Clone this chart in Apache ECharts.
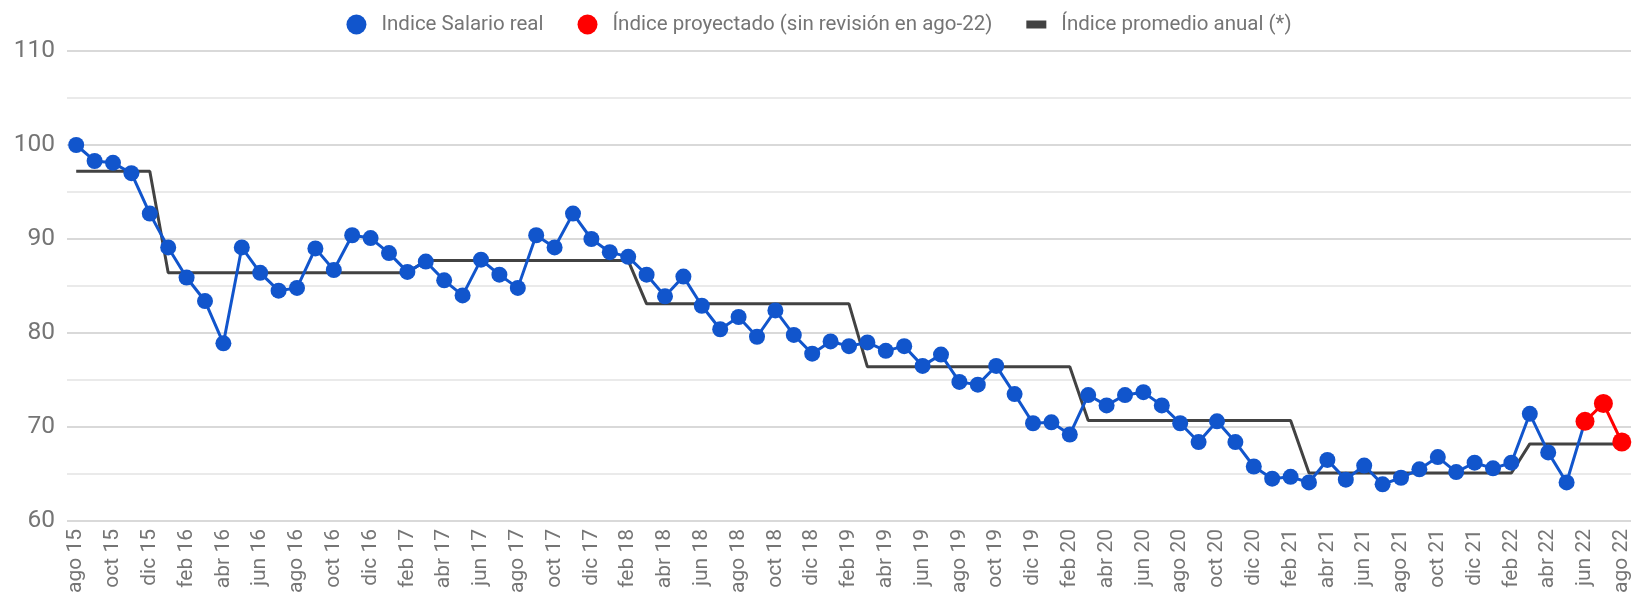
<!DOCTYPE html>
<html>
<head>
<meta charset="utf-8">
<script src="https://cdn.jsdelivr.net/npm/echarts@6/dist/echarts.min.js"></script>
<style>
html,body{margin:0;padding:0;background:#fff;}
#chart{width:1638px;height:596px;}
</style>
</head>
<body>
<div id="chart"></div>
<script>
const categories = [
 'ago 15','sep 15','oct 15','nov 15','dic 15',
 'ene 16','feb 16','mar 16','abr 16','may 16','jun 16','jul 16','ago 16','sep 16','oct 16','nov 16','dic 16',
 'ene 17','feb 17','mar 17','abr 17','may 17','jun 17','jul 17','ago 17','sep 17','oct 17','nov 17','dic 17',
 'ene 18','feb 18','mar 18','abr 18','may 18','jun 18','jul 18','ago 18','sep 18','oct 18','nov 18','dic 18',
 'ene 19','feb 19','mar 19','abr 19','may 19','jun 19','jul 19','ago 19','sep 19','oct 19','nov 19','dic 19',
 'ene 20','feb 20','mar 20','abr 20','may 20','jun 20','jul 20','ago 20','sep 20','oct 20','nov 20','dic 20',
 'ene 21','feb 21','mar 21','abr 21','may 21','jun 21','jul 21','ago 21','sep 21','oct 21','nov 21','dic 21',
 'ene 22','feb 22','mar 22','abr 22','may 22','jun 22','jul 22','ago 22'
];

const salarioReal = [
 100.0, 98.3, 98.1, 97.0, 92.7,
 89.1, 85.9, 83.4, 78.9, 89.1, 86.4, 84.5, 84.8, 89.0, 86.7, 90.4, 90.1,
 88.5, 86.5, 87.6, 85.6, 84.0, 87.8, 86.2, 84.8, 90.4, 89.1, 92.7, 90.0,
 88.6, 88.1, 86.2, 83.9, 86.0, 82.9, 80.4, 81.7, 79.6, 82.4, 79.8, 77.8,
 79.1, 78.6, 79.0, 78.1, 78.6, 76.5, 77.7, 74.8, 74.5, 76.5, 73.5, 70.4,
 70.5, 69.2, 73.4, 72.3, 73.4, 73.7, 72.3, 70.4, 68.4, 70.6, 68.4, 65.8,
 64.5, 64.7, 64.1, 66.5, 64.4, 65.9, 63.9, 64.6, 65.5, 66.8, 65.2, 66.2,
 65.6, 66.2, 71.4, 67.3, 64.1, 70.6, null, null
];

const proyectado = [
 null, null, null, null, null,
 null, null, null, null, null, null, null, null, null, null, null, null,
 null, null, null, null, null, null, null, null, null, null, null, null,
 null, null, null, null, null, null, null, null, null, null, null, null,
 null, null, null, null, null, null, null, null, null, null, null, null,
 null, null, null, null, null, null, null, null, null, null, null, null,
 null, null, null, null, null, null, null, null, null, null, null, null,
 null, null, null, null, null, 70.6, 72.5, 68.4
];

const promedioAnual = [
 97.2, 97.2, 97.2, 97.2, 97.2,
 86.4, 86.4, 86.4, 86.4, 86.4, 86.4, 86.4, 86.4, 86.4, 86.4, 86.4, 86.4,
 86.4, 86.4, 87.7, 87.7, 87.7, 87.7, 87.7, 87.7, 87.7, 87.7, 87.7, 87.7,
 87.7, 87.7, 83.1, 83.1, 83.1, 83.1, 83.1, 83.1, 83.1, 83.1, 83.1, 83.1,
 83.1, 83.1, 76.4, 76.4, 76.4, 76.4, 76.4, 76.4, 76.4, 76.4, 76.4, 76.4,
 76.4, 76.4, 70.7, 70.7, 70.7, 70.7, 70.7, 70.7, 70.7, 70.7, 70.7, 70.7,
 70.7, 70.7, 65.1, 65.1, 65.1, 65.1, 65.1, 65.1, 65.1, 65.1, 65.1, 65.1,
 65.1, 65.1, 68.2, 68.2, 68.2, 68.2, 68.2, 68.2
];

const yTicks = [60, 70, 80, 90, 100, 110];

const NAME_REAL = 'Indice Salario real';
const NAME_PROY = 'Índice proyectado (sin revisión en ago-22)';
const NAME_PROM = 'Índice promedio anual (*)';

const chart = echarts.init(document.getElementById('chart'), null, {renderer: 'canvas'});
chart.setOption({
  animation: false,
  backgroundColor: '#ffffff',
  textStyle: {fontFamily: 'Roboto'},
  legend: {
    top: 9,
    left: 'center',
    itemWidth: 20,
    itemHeight: 20,
    itemGap: 34,
    textStyle: {fontSize: 20.5, color: '#757575', fontFamily: 'Roboto', padding: [0, 0, 0, 10]},
    data: [
      {name: NAME_REAL, icon: 'circle'},
      {name: NAME_PROY, icon: 'circle'},
      {name: NAME_PROM, icon: 'path://M0,0M0,6h20v8h-20zM20,20'}
    ]
  },
  grid: {left: 67, right: 7, top: 51, bottom: 72, containLabel: false},
  xAxis: {
    type: 'category',
    data: categories,
    boundaryGap: true,
    axisLine: {show: false},
    axisTick: {show: false},
    splitLine: {show: false},
    axisLabel: {
      interval: 1,
      rotate: 90,
      margin: 8,
      fontSize: 21,
      color: '#757575',
      fontFamily: 'Roboto'
    }
  },
  yAxis: {
    type: 'value',
    min: 60,
    max: 110,
    interval: 5,
    axisLine: {show: false},
    axisTick: {show: false},
    axisLabel: {
      fontSize: 24.5,
      color: '#757575',
      margin: 12,
      fontFamily: 'Roboto',
      formatter: function (v) { return yTicks.indexOf(v) >= 0 ? String(v) : ''; }
    },
    splitLine: {lineStyle: {color: ['#cccccc', '#e3e3e3'], width: 1.5}}
  },
  series: [
    {
      name: NAME_PROM,
      type: 'line',
      data: promedioAnual,
      showSymbol: false,
      symbol: 'none',
      lineStyle: {color: '#424242', width: 3},
      itemStyle: {color: '#424242'},
      z: 2
    },
    {
      name: NAME_REAL,
      type: 'line',
      data: salarioReal,
      symbol: 'circle',
      symbolSize: 16,
      showAllSymbol: true,
      lineStyle: {color: '#1155cc', width: 3},
      itemStyle: {color: '#1155cc'},
      z: 3
    },
    {
      name: NAME_PROY,
      type: 'line',
      data: proyectado,
      symbol: 'circle',
      symbolSize: 19,
      showAllSymbol: true,
      lineStyle: {color: '#ff0000', width: 3},
      itemStyle: {color: '#ff0000'},
      z: 4
    }
  ]
});
</script>
</body>
</html>
